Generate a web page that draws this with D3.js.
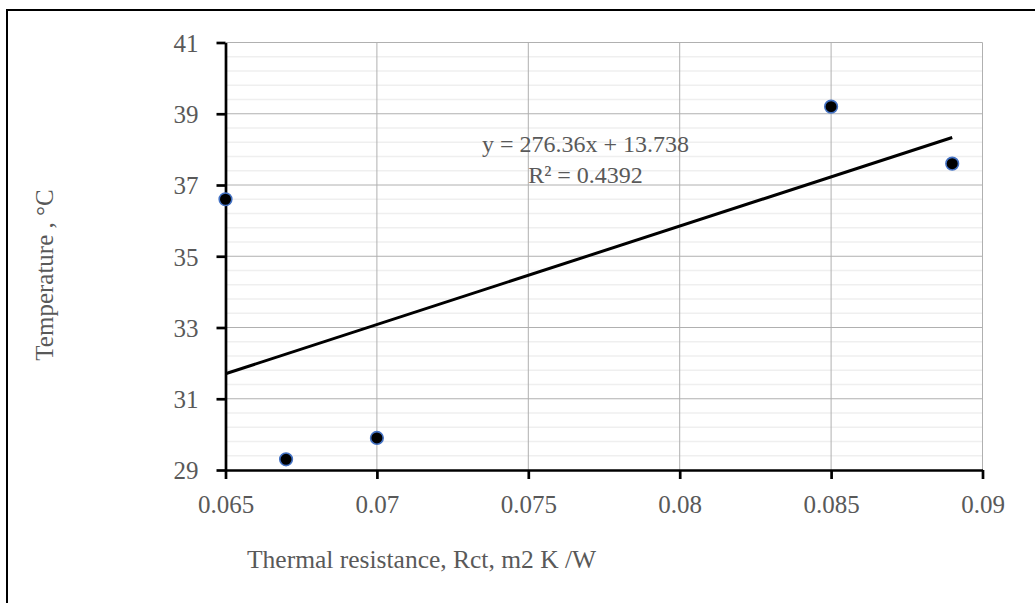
<!DOCTYPE html>
<html>
<head>
<meta charset="utf-8">
<script src="https://cdn.jsdelivr.net/npm/d3@7"></script>
<style>
  html, body { margin: 0; padding: 0; background: #fff; }
  svg { display: block; }
  text { font-family: "Liberation Serif", "DejaVu Serif", serif; fill: #595959; }
</style>
</head>
<body>
<svg id="chart" width="1035" height="603"></svg>
<script>
// ---- data ----
const xValues = [0.065, 0.067, 0.07, 0.085, 0.089];
const yValues = [36.6, 29.3, 29.9, 39.2, 37.6];
const xTicks = [0.065, 0.07, 0.075, 0.08, 0.085, 0.09];
const yTicks = [29, 31, 33, 35, 37, 39, 41];
const xTickLabels = ["0.065", "0.07", "0.075", "0.08", "0.085", "0.09"];
const yTickLabels = ["29", "31", "33", "35", "37", "39", "41"];
const trendSlope = [276.36];
const trendIntercept = [13.738];
const trendLabels = ["y = 276.36x + 13.738", "R² = 0.4392"];
const xTitle = "Thermal resistance, Rct, m2 K /W";
const yTitle = "Temperature , °C";

// ---- layout ----
const svg = d3.select("#chart");
const pL = 225.5, pR = 982.5, pT = 42.5, pB = 470;
const FS = 25;
const x = d3.scaleLinear().domain([0.065, 0.09]).range([pL, pR]);
const y = d3.scaleLinear().domain([29, 41]).range([pB, pT]);

// outer frame (only top and left visible)
svg.append("rect").attr("x", 7).attr("y", 10).attr("width", 1200).attr("height", 800)
  .attr("fill", "none").attr("stroke", "#000").attr("stroke-width", 2);

// minor horizontal gridlines
const minor = d3.range(29.4, 41, 0.4).filter(v => Math.abs((v - 29) / 2 - Math.round((v - 29) / 2)) > 0.01);
svg.append("g").selectAll("line").data(minor).join("line")
  .attr("x1", pL).attr("x2", pR)
  .attr("y1", d => y(d)).attr("y2", d => y(d))
  .attr("stroke", "#efefef").attr("stroke-width", 1.5);

// major horizontal gridlines
svg.append("g").selectAll("line").data(yTicks.slice(1)).join("line")
  .attr("x1", pL).attr("x2", pR)
  .attr("y1", d => y(d)).attr("y2", d => y(d))
  .attr("stroke", "#b0b0b0").attr("stroke-width", 1);

// vertical gridlines
svg.append("g").selectAll("line").data(xTicks.slice(1)).join("line")
  .attr("x1", d => x(d)).attr("x2", d => x(d))
  .attr("y1", pT).attr("y2", pB)
  .attr("stroke", "#b0b0b0").attr("stroke-width", 1);

// axes
const xAxis = d3.axisBottom(x).tickValues(xTicks).tickSize(9).tickSizeOuter(0)
  .tickFormat((d, i) => xTickLabels[i]);
const gx = svg.append("g").attr("transform", `translate(0,${pB})`).call(xAxis);
gx.select(".domain").attr("stroke", "#000").attr("stroke-width", 2.7);
gx.selectAll(".tick line").attr("stroke", "#000").attr("stroke-width", 2.7);
gx.selectAll(".tick text").attr("y", 43).attr("dy", 0)
  .attr("font-size", FS).attr("font-family", "Liberation Serif").attr("fill", "#595959");

const yAxis = d3.axisLeft(y).tickValues(yTicks).tickSize(9).tickSizeOuter(0)
  .tickFormat((d, i) => yTickLabels[i]);
const gy = svg.append("g").attr("transform", `translate(${pL},0)`).call(yAxis);
gy.select(".domain").attr("stroke", "#000").attr("stroke-width", 2.7);
gy.selectAll(".tick line").attr("stroke", "#000").attr("stroke-width", 2.7);
gy.selectAll(".tick text").attr("x", -27).attr("dy", "0.35em")
  .attr("font-size", FS).attr("font-family", "Liberation Serif").attr("fill", "#595959");

// trendline
const xMin = d3.min(xValues), xMax = d3.max(xValues);
const trend = [xMin, xMax].map(v => [v, trendSlope[0] * v + trendIntercept[0]]);
svg.append("path").datum(trend)
  .attr("d", d3.line().x(d => x(d[0])).y(d => y(d[1])))
  .attr("stroke", "#000").attr("stroke-width", 3).attr("fill", "none");

// points
svg.append("g").selectAll("circle").data(xValues.map((v, i) => [v, yValues[i]])).join("circle")
  .attr("cx", d => x(d[0])).attr("cy", d => y(d[1])).attr("r", 6.3)
  .attr("fill", "#000").attr("stroke", "#4472C4").attr("stroke-width", 1.6);

// trend label
svg.append("text").attr("x", 585.5).attr("y", 152).attr("text-anchor", "middle")
  .attr("font-size", 24).text(trendLabels[0]);
svg.append("text").attr("x", 585.5).attr("y", 183).attr("text-anchor", "middle")
  .attr("font-size", 24).text(trendLabels[1]);

// axis titles
svg.append("text").attr("x", 247).attr("y", 568).attr("font-size", 25.5).text(xTitle);
svg.append("text").attr("transform", "translate(53,275) rotate(-90)")
  .attr("text-anchor", "middle").attr("font-size", FS).text(yTitle);
</script>
</body>
</html>
